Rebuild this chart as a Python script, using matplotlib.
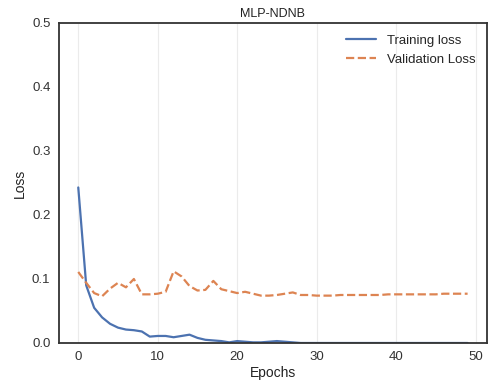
import matplotlib
matplotlib.use("Agg")
from matplotlib import pyplot as plt
import seaborn as sns

sns.set_style("white")
plt.rcParams['font.family'] = ['Liberation Sans', 'DejaVu Sans']

epochs = list(range(50))
train_loss = [0.243, 0.090, 0.055, 0.040, 0.030, 0.024, 0.021, 0.020, 0.018, 0.010,
              0.011, 0.011, 0.009, 0.011, 0.013, 0.008, 0.005, 0.004, 0.003, 0.001,
              0.003, 0.002, 0.001, 0.001, 0.002, 0.003, 0.002, 0.001, 0.0, 0.0,
              0.0, 0.0, 0.0, 0.0, 0.0, 0.0, 0.0, 0.0, 0.0, 0.0,
              0.0, 0.0, 0.0, 0.0, 0.0, 0.0, 0.0, 0.0, 0.0, 0.0]
val_loss = [0.111, 0.094, 0.078, 0.073, 0.085, 0.094, 0.087, 0.100, 0.076, 0.076,
            0.077, 0.080, 0.112, 0.104, 0.089, 0.082, 0.083, 0.097, 0.084, 0.081,
            0.078, 0.080, 0.077, 0.074, 0.074, 0.075, 0.077, 0.079, 0.075, 0.075,
            0.074, 0.074, 0.074, 0.075, 0.075, 0.075, 0.075, 0.075, 0.075, 0.076,
            0.076, 0.076, 0.076, 0.076, 0.076, 0.076, 0.077, 0.077, 0.077, 0.077]

fig = plt.figure(figsize=(4.9, 3.87), dpi=100)
ax = fig.add_axes([0.120, 0.1137, 0.874, 0.827])

ax.plot(epochs, train_loss, color="#4c72b0", lw=1.6, label="Training loss")
ax.plot(epochs, val_loss, color="#dd8452", lw=1.6, ls="--", label="Validation Loss")

ax.set_ylim(0, 0.5)
ax.set_yticks([0.0, 0.1, 0.2, 0.3, 0.4, 0.5])
ax.set_xticks([0, 10, 20, 30, 40, 50])
ax.grid(axis="x", color="#ebebeb", lw=0.8)
ax.set_axisbelow(True)
for s in ax.spines.values():
    s.set_color("#333333")
    s.set_linewidth(1.3)
ax.tick_params(labelsize=9.5, colors="#333333", length=0, pad=6)

ax.set_title("MLP-NDNB", fontsize=9, color="#222222", pad=4)
ax.set_xlabel("Epochs", fontsize=10, color="#222222", labelpad=2)
ax.set_ylabel("Loss", fontsize=10, color="#222222", labelpad=4)
ax.legend(loc="upper right", frameon=False, fontsize=9.5, handlelength=2.3)

fig.savefig("out.png", dpi=100)
